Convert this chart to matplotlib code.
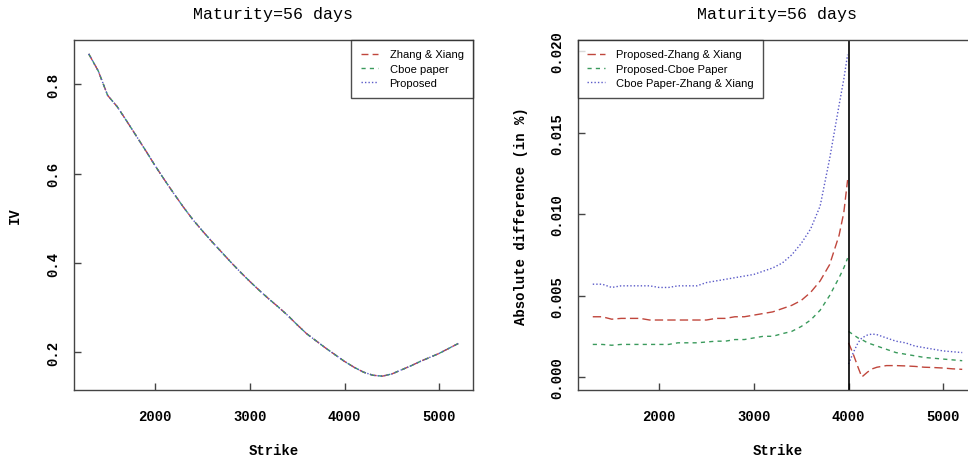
import numpy as np
import matplotlib
matplotlib.use('Agg')
import matplotlib.pyplot as plt


# implied volatility (three methods overlap)
strike = [1300, 1400, 1500, 1600, 1700, 1800, 1900, 2000, 2100, 2200,
          2300, 2400, 2500, 2600, 2700, 2800, 2900, 3000, 3100, 3200,
          3300, 3400, 3500, 3600, 3700, 3800, 3900, 4000, 4100, 4200,
          4300, 4400, 4500, 4600, 4700, 4800, 4900, 5000, 5100, 5200]
iv = [0.868, 0.830, 0.775, 0.750, 0.718, 0.685, 0.652, 0.618, 0.586, 0.555,
      0.525, 0.497, 0.472, 0.448, 0.425, 0.402, 0.380, 0.359, 0.339, 0.320,
      0.302, 0.283, 0.262, 0.242, 0.226, 0.210, 0.195, 0.180, 0.167, 0.156,
      0.149, 0.147, 0.152, 0.161, 0.170, 0.180, 0.189, 0.198, 0.209, 0.220]

# absolute differences, below the 4000 break
strike_lo = [1300, 1400, 1500, 1600, 1700, 1800, 1900, 2000, 2100, 2200,
             2300, 2400, 2500, 2600, 2700, 2800, 2900, 3000, 3100, 3200,
             3300, 3400, 3500, 3600, 3700, 3800, 3900, 3950, 3990]
prop_zx_lo = [0.0037, 0.0037, 0.00355, 0.0036, 0.0036, 0.0036, 0.0035, 0.0035, 0.0035, 0.0035,
              0.0035, 0.0035, 0.0035, 0.0036, 0.0036, 0.0037, 0.0037, 0.0038, 0.0039, 0.0040,
              0.0042, 0.0044, 0.0047, 0.0052, 0.0059, 0.0069, 0.0087, 0.0101, 0.0121]
prop_cboe_lo = [0.0020, 0.0020, 0.00195, 0.0020, 0.0020, 0.0020, 0.0020, 0.0020, 0.0020, 0.0021,
                0.0021, 0.0021, 0.00215, 0.0022, 0.0022, 0.0023, 0.0023, 0.0024, 0.0025, 0.0025,
                0.00266, 0.0028, 0.0031, 0.0035, 0.0041, 0.0050, 0.0061, 0.0067, 0.0073]
cboe_zx_lo = [0.0057, 0.0057, 0.0055, 0.0056, 0.0056, 0.0056, 0.0056, 0.0055, 0.0055, 0.0056,
              0.0056, 0.0056, 0.0058, 0.0059, 0.0060, 0.0061, 0.0062, 0.0063, 0.0065, 0.0067,
              0.0070, 0.0075, 0.0082, 0.0091, 0.0105, 0.0134, 0.0167, 0.0183, 0.0198]

# above the break
strike_hi = [4000, 4050, 4100, 4140, 4200, 4250, 4300, 4400, 4500, 4600,
             4700, 4800, 4900, 5000, 5100, 5200]
prop_zx_hi = [0.0021, 0.0014, 0.0006, 0.0000, 0.0003, 0.0005, 0.0006, 0.0007, 0.0007, 0.00068,
              0.00065, 0.0006, 0.00058, 0.00055, 0.0005, 0.00047]
prop_cboe_hi = [0.0028, 0.0026, 0.0024, 0.0023, 0.0021, 0.0020, 0.0019, 0.0017, 0.0015, 0.0014,
                0.0013, 0.0012, 0.00115, 0.0011, 0.00105, 0.0010]
cboe_zx_hi = [0.0008, 0.0015, 0.0021, 0.0024, 0.00258, 0.00264, 0.0026, 0.0024, 0.0022, 0.0021,
              0.0019, 0.0018, 0.0017, 0.0016, 0.00155, 0.0015]

spot = 4000

RED = '#c0463c'
GREEN = '#3a9a5c'
BLUE = '#5a5ac8'
MONO = 'Liberation Mono'
SANS = 'Liberation Sans'


def style_axes(ax, ylabel, ylab_x):
    for sp in ax.spines.values():
        sp.set_color('#444444')
        sp.set_linewidth(1.0)
    ax.tick_params(direction='in', length=5, width=1, color='#444444')
    ax.tick_params(axis='x', pad=14)
    ax.tick_params(axis='y', labelrotation=90, pad=10)
    for lab in ax.get_xticklabels() + ax.get_yticklabels():
        lab.set_fontfamily(MONO)
        lab.set_fontweight('bold')
        lab.set_fontsize(10)
    for lab in ax.get_yticklabels():
        lab.set_verticalalignment('center')
    ax.set_xlabel('Strike', fontfamily=MONO, fontweight='bold', fontsize=10, va='center')
    ax.set_ylabel(ylabel, fontfamily=MONO, fontweight='bold', fontsize=10, va='center')
    ax.xaxis.set_label_coords(0.5, -0.171)
    ax.yaxis.set_label_coords(ylab_x, 0.5)
    ax.set_title('Maturity=56 days', fontfamily=MONO, fontsize=12, pad=16)


def legend(ax, loc):
    leg = ax.legend(loc=loc, prop={'family': SANS, 'size': 8}, frameon=True,
                    fancybox=False, borderaxespad=0, handlelength=1.6,
                    handletextpad=1.0, labelspacing=0.4, borderpad=0.85)
    leg.get_frame().set_edgecolor('#222222')
    leg.get_frame().set_linewidth(1.0)


fig = plt.figure(figsize=(9.68, 4.64), dpi=100)
ax1 = fig.add_axes([0.0764, 0.1573, 0.4122, 0.7543])
ax2 = fig.add_axes([0.5971, 0.1573, 0.4122, 0.7543])

# left: IV curves
ax1.plot(strike, iv, color=RED, lw=1, dashes=(5, 3), label='Zhang & Xiang')
ax1.plot(strike, iv, color=GREEN, lw=1, dashes=(3, 3), label='Cboe paper')
ax1.plot(strike, iv, color=BLUE, lw=1, dashes=(1, 1.5), label='Proposed')
ax1.set_xlim(1144, 5356)
ax1.set_ylim(0.116, 0.899)
ax1.set_xticks([2000, 3000, 4000, 5000])
ax1.set_yticks([0.2, 0.4, 0.6, 0.8])
style_axes(ax1, 'IV', -0.148)
legend(ax1, 'upper right')

# right: absolute differences
ax2.plot(strike_lo, prop_zx_lo, color=RED, lw=1, dashes=(6, 3), label='Proposed-Zhang & Xiang')
ax2.plot(strike_lo, prop_cboe_lo, color=GREEN, lw=1, dashes=(3, 3), label='Proposed-Cboe Paper')
ax2.plot(strike_lo, cboe_zx_lo, color=BLUE, lw=1, dashes=(1, 1.5), label='Cboe Paper-Zhang & Xiang')
ax2.plot(strike_hi, prop_zx_hi, color=RED, lw=1, dashes=(6, 3))
ax2.plot(strike_hi, prop_cboe_hi, color=GREEN, lw=1, dashes=(3, 3))
ax2.plot(strike_hi, cboe_zx_hi, color=BLUE, lw=1, dashes=(1, 1.5))
ax2.axvline(spot, color='black', lw=1.2)
ax2.set_xlim(1144, 5356)
ax2.set_ylim(-0.0008, 0.0207)
ax2.set_xticks([2000, 3000, 4000, 5000])
ax2.set_yticks([0.0, 0.005, 0.010, 0.015, 0.020])
ax2.set_yticklabels(['0.000', '0.005', '0.010', '0.015', '0.020'])
style_axes(ax2, 'Absolute difference (in %)', -0.143)
legend(ax2, 'upper left')

fig.savefig('out.png', dpi=100)
